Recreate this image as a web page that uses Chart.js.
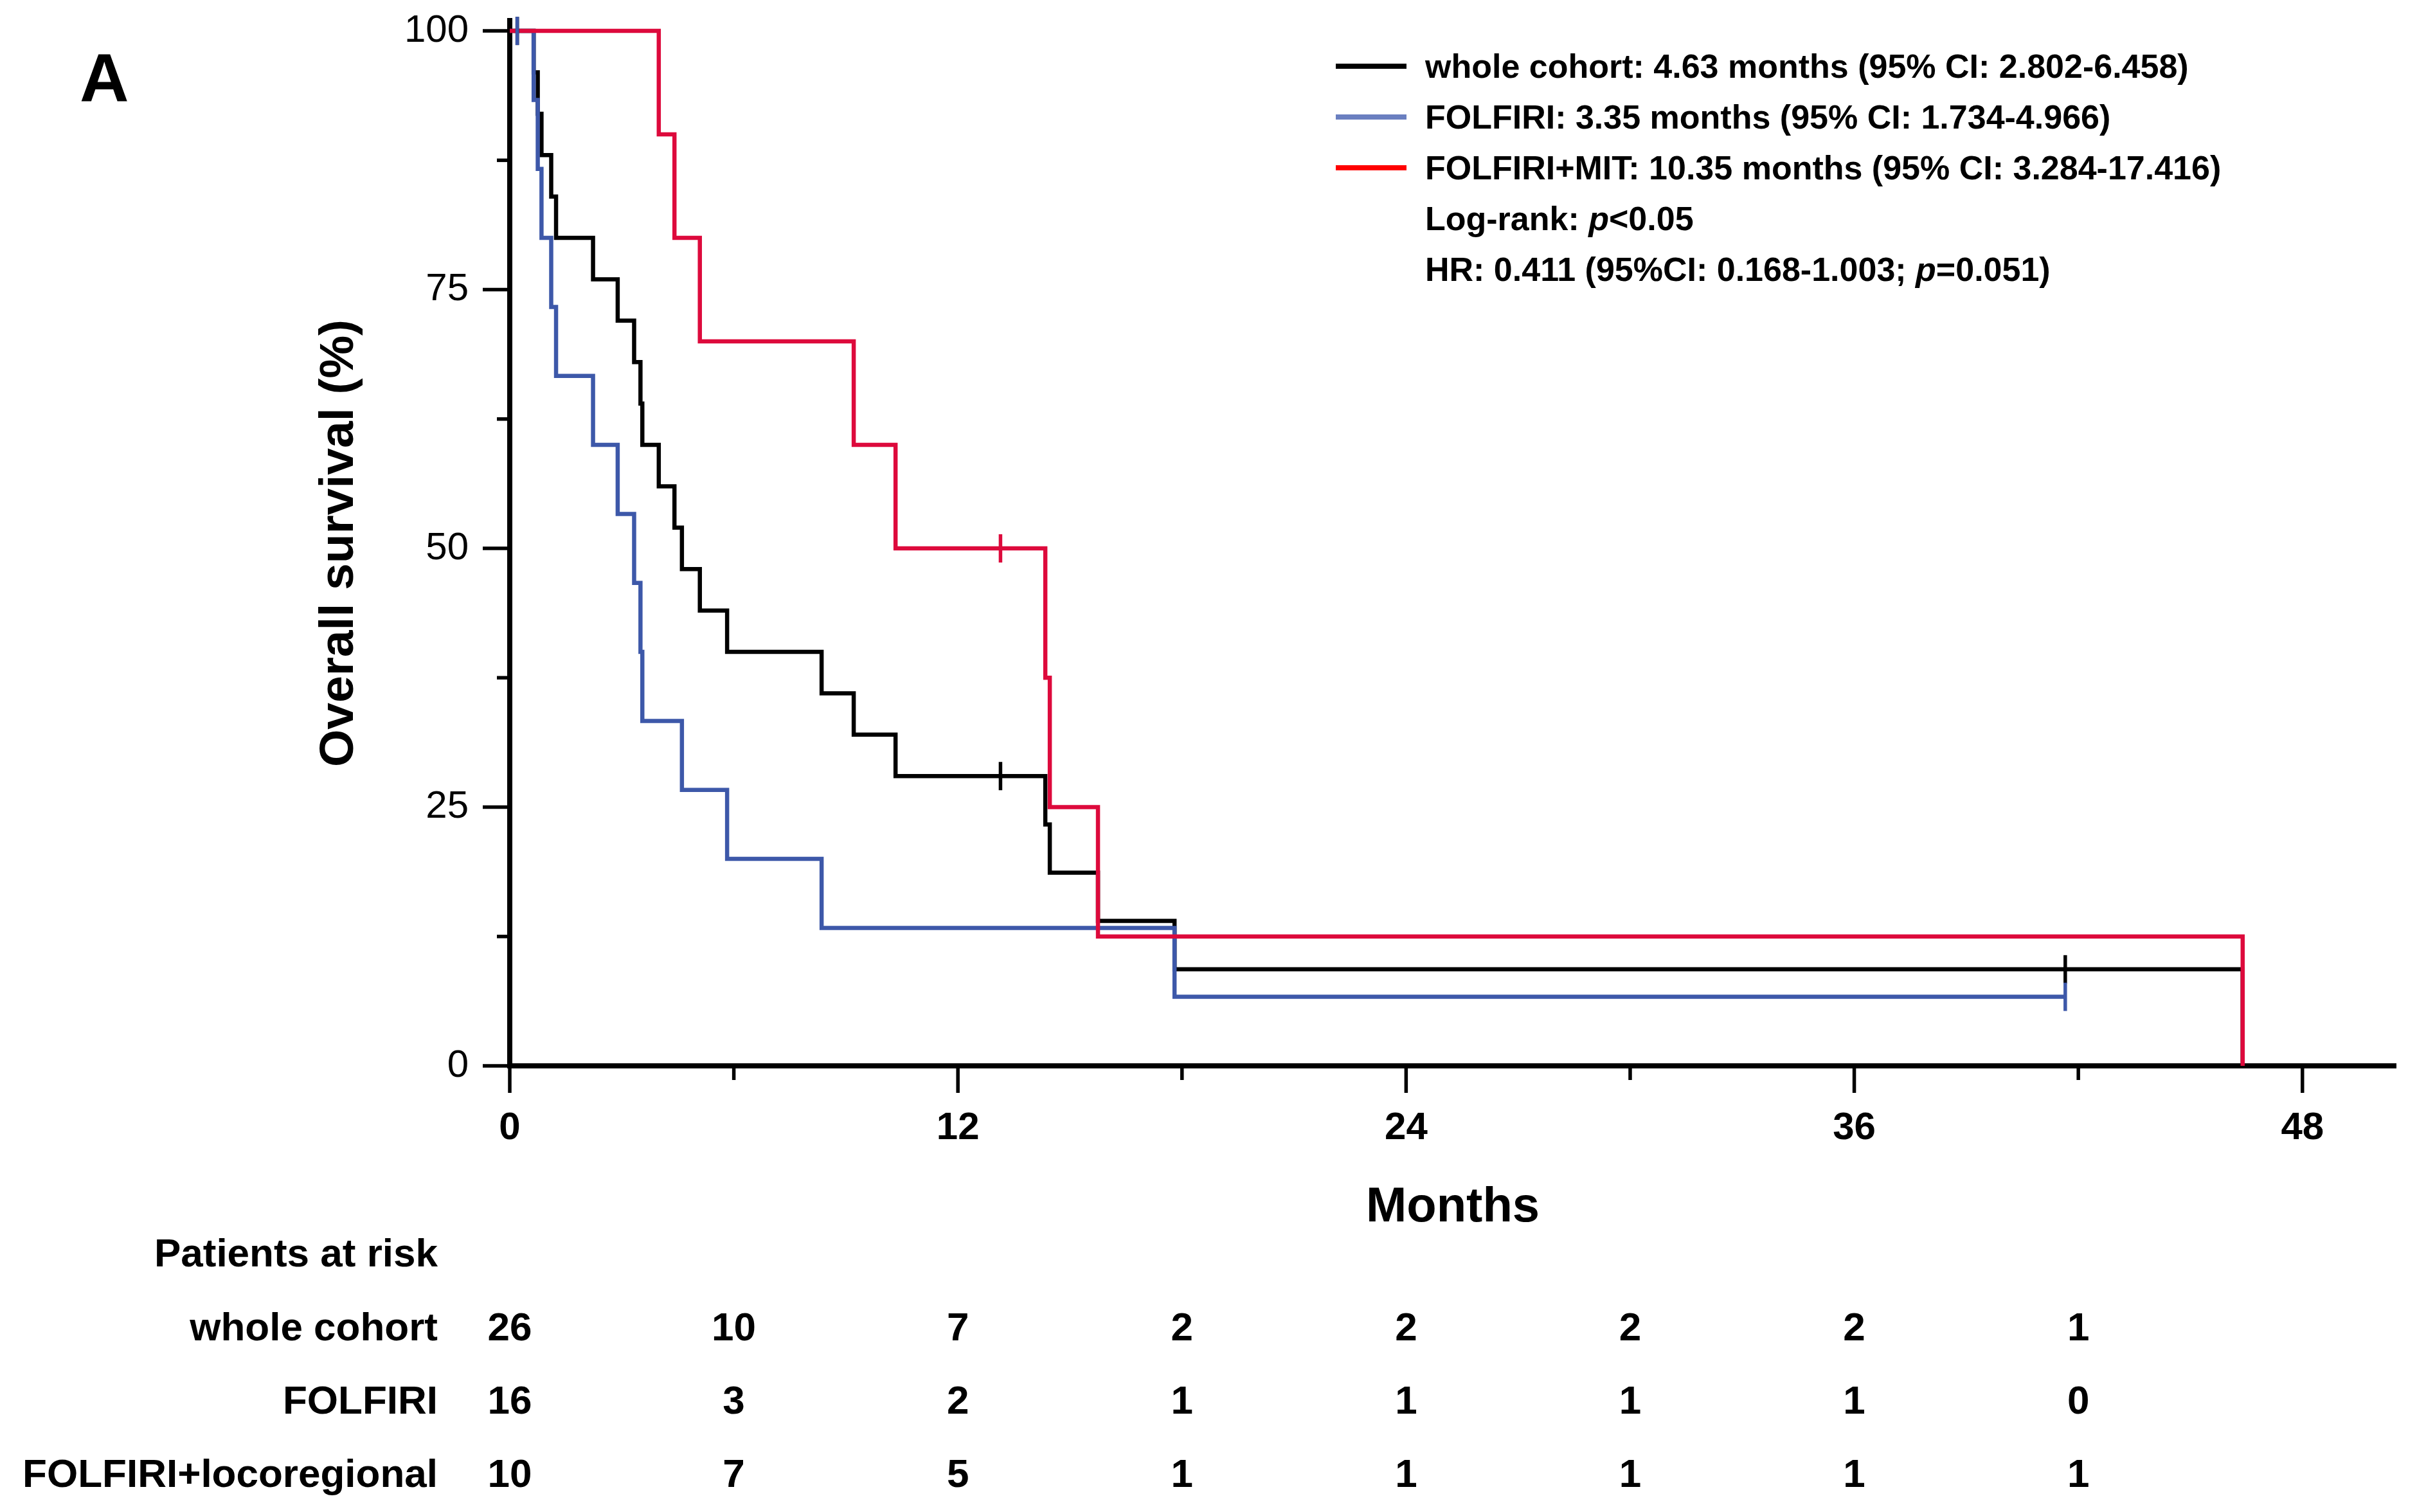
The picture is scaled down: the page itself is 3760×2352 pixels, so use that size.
<!DOCTYPE html>
<html>
<head>
<meta charset="utf-8">
<script src="https://cdn.jsdelivr.net/npm/chart.js@4.4.1/dist/chart.umd.min.js"></script>
<style>
html,body{margin:0;padding:0;background:#fff;}
#wrap{position:relative;width:3760px;height:2352px;overflow:hidden;font-family:"Liberation Sans",Arial,sans-serif;font-weight:bold;color:#000;background:#fff;}
#c{position:absolute;left:0;top:0;}
.t{position:absolute;white-space:nowrap;line-height:1;}
.lg{position:absolute;height:8px;width:110px;}
</style>
</head>
<body>
<div id="wrap"><canvas id="c" width="3760" height="2352"></canvas></div>
<script>
// ---- data ----
const wholeTimes = [0, 0.64, 0.75, 0.85, 1.11, 1.24, 2.23, 2.89, 3.33, 3.50, 3.55, 3.99, 4.41, 4.61, 5.09, 5.82, 8.35, 9.21, 10.33, 14.34, 14.46, 15.75, 17.80, 46.40];
const wholeSurv  = [100, 96, 92, 88, 84, 80, 76, 72, 68, 64, 60, 56, 52, 48, 44, 40, 36, 32, 28, 23.33, 18.67, 14, 9.33, 0];
const folTimes   = [0, 0.64, 0.75, 0.85, 1.11, 1.24, 2.23, 2.89, 3.33, 3.50, 3.55, 4.61, 5.82, 8.35, 17.80, 41.65];
const folSurv    = [100, 93.33, 86.67, 80, 73.33, 66.67, 60, 53.33, 46.67, 40, 33.33, 26.67, 20, 13.33, 6.67, 6.67];
const mitTimes   = [0, 3.99, 4.41, 5.09, 9.21, 10.33, 14.34, 14.46, 15.75, 46.40];
const mitSurv    = [100, 90, 80, 70, 60, 50, 37.5, 25, 12.5, 0];

const wholeCensorTimes = [0.2, 13.14, 41.65];
const wholeCensorSurv  = [100, 28, 9.33];
const folCensorTimes   = [0.2, 41.65];
const folCensorSurv    = [100, 6.67];
const mitCensorTimes   = [13.14];
const mitCensorSurv    = [50];

const xTickValues = [0, 12, 24, 36, 48];
const xTickLabels = ["0", "12", "24", "36", "48"];
const xMinorTicks = [6, 18, 30, 42];
const yTickValues = [0, 25, 50, 75, 100];
const yTickLabels = ["0", "25", "50", "75", "100"];
const yMinorTicks = [12.5, 37.5, 62.5, 87.5];

const riskTimes = [0, 6, 12, 18, 24, 30, 36, 42];
const riskRowLabels = ["whole cohort", "FOLFIRI", "FOLFIRI+locoregional"];
const riskWhole = [26, 10, 7, 2, 2, 2, 2, 1];
const riskFol   = [16, 3, 2, 1, 1, 1, 1, 0];
const riskMit   = [10, 7, 5, 1, 1, 1, 1, 1];

const legendTexts = [
  "whole cohort: 4.63 months (95% CI: 2.802-6.458)",
  "FOLFIRI: 3.35 months (95% CI: 1.734-4.966)",
  "FOLFIRI+MIT: 10.35 months (95% CI: 3.284-17.416)"
];
const statTexts = [
  ["Log-rank: ", "p", "<0.05"],
  ["HR: 0.411 (95%CI: 0.168-1.003; ", "p", "=0.051)"]
];

// ---- styles ----
const FAMILY = '"Liberation Sans", Arial, sans-serif';
const C_BLACK = '#000000', C_BLUE = '#3d58a9', C_RED = '#dd0a3c';
const L_BLUE = '#6a7fc0', L_RED = '#ff0000';

function pts(xs, ys){ return xs.map((x,i)=>({x:x, y:ys[i]})); }
function curve(label, xs, ys, color, order){
  return {type:'line', label, data: pts(xs,ys), borderColor: color, backgroundColor: color,
    borderWidth: 6.5, stepped: 'before', pointRadius: 0, fill: false, order, clip: false,
    borderCapStyle: 'butt', borderJoinStyle: 'miter'};
}
function censor(label, xs, ys, color, order){
  return {type:'line', label, data: pts(xs,ys), showLine: false, borderColor: color, backgroundColor: color,
    pointStyle: 'line', pointRadius: 22, pointRotation: 90, pointBorderColor: color, pointBorderWidth: 5.5,
    order, clip: false};
}

const tickPlugin = {
  id: 'kmTicks',
  afterDraw(chart){
    const ctx = chart.ctx, xs = chart.scales.x, ys = chart.scales.y;
    const a = chart.chartArea;
    ctx.save();
    ctx.strokeStyle = '#000';
    ctx.lineWidth = 5.5;
    ctx.lineCap = 'butt';
    const xt = (v, len) => { const p = xs.getPixelForValue(v); ctx.beginPath(); ctx.moveTo(p, a.bottom); ctx.lineTo(p, a.bottom + len); ctx.stroke(); };
    const yt = (v, len) => { const p = ys.getPixelForValue(v); ctx.beginPath(); ctx.moveTo(a.left, p); ctx.lineTo(a.left - len, p); ctx.stroke(); };
    xTickValues.forEach(v => xt(v, 42));
    xMinorTicks.forEach(v => xt(v, 22));
    yTickValues.forEach(v => yt(v, 42));
    yMinorTicks.forEach(v => yt(v, 20));
    ctx.restore();
  }
};

const chart = new Chart(document.getElementById('c'), {
  data: {
    datasets: [
      censor('FOLFIRI+MIT censored', mitCensorTimes, mitCensorSurv, C_RED, 0),
      censor('FOLFIRI censored', folCensorTimes, folCensorSurv, C_BLUE, 1),
      censor('whole cohort censored', wholeCensorTimes, wholeCensorSurv, C_BLACK, 2),
      curve('FOLFIRI+MIT', mitTimes, mitSurv, C_RED, 3),
      curve('FOLFIRI', folTimes, folSurv, C_BLUE, 4),
      curve('whole cohort', wholeTimes, wholeSurv, C_BLACK, 5)
    ]
  },
  options: {
    responsive: false,
    devicePixelRatio: 1,
    animation: false,
    layout: {padding: {left: 0, right: 33, top: 32, bottom: 0}},
    plugins: {legend: {display: false}, tooltip: {enabled: false}},
    scales: {
      x: {
        type: 'linear', position: 'bottom', min: 0, max: 50.5,
        afterBuildTicks: s => { s.ticks = xTickValues.map(v => ({value: v})); },
        afterFit: s => { s.height = 694; },
        ticks: {callback: (v, i) => xTickLabels[i], font: {family: FAMILY, size: 60, weight: 'bold'}, color: '#000', padding: 19, maxRotation: 0, autoSkip: false},
        grid: {display: false, drawTicks: true, tickLength: 42},
        border: {display: true, color: '#000', width: 8},
        title: {display: true, text: 'Months', color: '#000', font: {family: FAMILY, size: 76, weight: 'bold'}, padding: {top: 0, bottom: 427}}
      },
      y: {
        type: 'linear', position: 'left', min: 0, max: 101,
        afterBuildTicks: s => { s.ticks = yTickValues.map(v => ({value: v})); },
        afterFit: s => { s.width = 793; s.paddingTop = 0; s.paddingBottom = 0; },
        ticks: {callback: (v, i) => yTickLabels[i], font: {family: FAMILY, size: 60, weight: 'normal', lineHeight: 0.15}, color: '#000', padding: 22, autoSkip: false},
        grid: {display: false, drawTicks: true, tickLength: 42},
        border: {display: true, color: '#000', width: 8},
        title: {display: true, text: 'Overall survival (%)', color: '#000', font: {family: FAMILY, size: 75, weight: 'bold'}, padding: {top: 483, bottom: 0}}
      }
    }
  },
  plugins: [tickPlugin]
});

// ---- text overlays ----
const wrap = document.getElementById('wrap');
function addText(txt, opts){
  const d = document.createElement('div');
  d.className = 't';
  if (Array.isArray(txt)) {
    txt.forEach((part, k) => {
      const s = document.createElement('span');
      s.textContent = part;
      if (k === 1) s.style.fontStyle = 'italic';
      d.appendChild(s);
    });
  } else d.textContent = txt;
  const size = opts.size;
  d.style.fontSize = size + 'px';
  d.style.top = (opts.baseline - 0.8465 * size) + 'px';
  if (opts.left !== undefined) d.style.left = opts.left + 'px';
  if (opts.right !== undefined) { d.style.right = (3760 - opts.right) + 'px'; d.style.textAlign = 'right'; }
  if (opts.center !== undefined) { d.style.left = opts.center + 'px'; d.style.transform = 'translateX(-50%)'; }
  wrap.appendChild(d);
  return d;
}

addText('A', {size: 106, baseline: 158, left: 124});

// legend
const legendColors = [C_BLACK, L_BLUE, L_RED];
const legBase = [121, 200, 279, 358, 437];
legendTexts.forEach((t, i) => {
  addText(t, {size: 52, baseline: legBase[i], left: 2217});
  const l = document.createElement('div');
  l.className = 'lg';
  l.style.left = '2078px';
  l.style.top = (legBase[i] - 18 - 4) + 'px';
  l.style.background = legendColors[i];
  wrap.appendChild(l);
});
statTexts.forEach((t, i) => addText(t, {size: 52, baseline: legBase[3 + i], left: 2217}));

// risk table
const xs = chart.scales.x;
addText('Patients at risk', {size: 62, baseline: 1970, right: 681});
const riskRows = [riskWhole, riskFol, riskMit];
const riskBase = [2085, 2199, 2313];
riskRows.forEach((row, r) => {
  addText(riskRowLabels[r], {size: 62, baseline: riskBase[r], right: 681});
  row.forEach((n, i) => addText(String(n), {size: 62, baseline: riskBase[r], center: xs.getPixelForValue(riskTimes[i])}));
});
</script>
</body>
</html>
